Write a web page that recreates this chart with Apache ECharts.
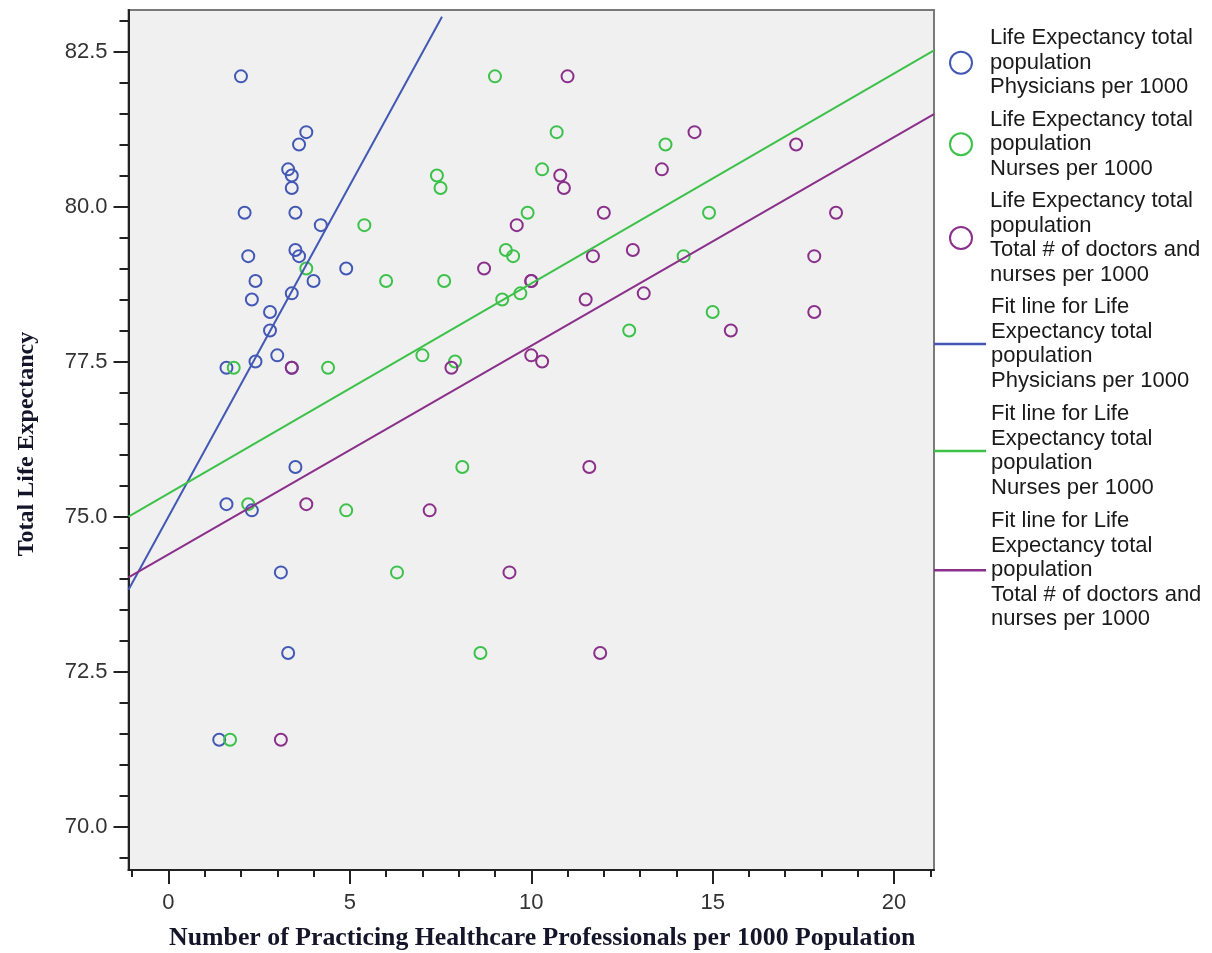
<!DOCTYPE html>
<html>
<head>
<meta charset="utf-8">
<script src="https://cdn.jsdelivr.net/npm/echarts@6/dist/echarts.min.js"></script>
<style>
html,body{margin:0;padding:0;background:#fff;}
#chart{width:1212px;height:953px;}
</style>
</head>
<body>
<div id="chart"></div>
<script>
// Life expectancy of each country (shared y value)
const lifeExp = [82.1,81.2,81.0,80.6,80.5,80.3,79.9,79.9,79.7,79.3,79.2,79.2,79.0,78.8,78.8,78.6,78.5,78.3,78.0,77.6,77.5,77.4,77.4,75.8,75.2,75.1,74.1,72.8,71.4];
// Physicians per 1000
const physicians = [2.0,3.8,3.6,3.3,3.4,3.4,2.1,3.5,4.2,3.5,2.2,3.6,4.9,2.4,4.0,3.4,2.3,2.8,2.8,3.0,2.4,1.6,3.4,3.5,1.6,2.3,3.1,3.3,1.4];
// Nurses per 1000
const nurses = [9.0,10.7,13.7,10.3,7.4,7.5,9.9,14.9,5.4,9.3,9.5,14.2,3.8,7.6,6.0,9.7,9.2,15.0,12.7,7.0,7.9,1.8,4.4,8.1,2.2,4.9,6.3,8.6,1.7];
// Total doctors and nurses per 1000
const totals = [11.0,14.5,17.3,13.6,10.8,10.9,12.0,18.4,9.6,12.8,11.7,17.8,8.7,10.0,10.0,13.1,11.5,17.8,15.5,10.0,10.3,3.4,7.8,11.6,3.8,7.2,9.4,11.9,3.1];

// Fit line end points
const fitPhysX = [-1.1, 7.54];
const fitPhysY = [73.82, 83.06];
const fitNurseX = [-1.1, 21.1];
const fitNurseY = [75.0, 82.52];
const fitTotalX = [-1.1, 21.1];
const fitTotalY = [74.02, 81.49];

// Axis ticks
const xMajorTicks = [0, 5, 10, 15, 20];
const xMinorTicks = [-1, 1, 2, 3, 4, 6, 7, 8, 9, 11, 12, 13, 14, 16, 17, 18, 19, 21];
const yMajorTicks = [70, 72.5, 75, 77.5, 80, 82.5];
const yMinorTicks = [69.5, 70.5, 71, 71.5, 72, 73, 73.5, 74, 74.5, 75.5, 76, 76.5, 77, 78, 78.5, 79, 79.5, 80.5, 81, 81.5, 82, 83];

const names = [
  'Life Expectancy total\npopulation\nPhysicians per 1000',
  'Life Expectancy total\npopulation\nNurses per 1000',
  'Life Expectancy total\npopulation\nTotal # of doctors and\nnurses per 1000',
  'Fit line for Life\nExpectancy total\npopulation\nPhysicians per 1000',
  'Fit line for Life\nExpectancy total\npopulation\nNurses per 1000',
  'Fit line for Life\nExpectancy total\npopulation\nTotal # of doctors and\nnurses per 1000'
];
const colors = ['#4258b4', '#3cc24a', '#8a2f8a'];

const X_MIN = -1.1, X_MAX = 21.1, Y_MIN = 69.3, Y_MAX = 83.17;

function pairs(xs, ys) { return xs.map((x, i) => [x, ys[i]]); }

const scatterSeries = [physicians, nurses, totals].map((xs, i) => ({
  type: 'scatter',
  name: names[i],
  data: pairs(xs, lifeExp),
  symbol: 'circle',
  symbolSize: 12,
  xAxisIndex: 0, yAxisIndex: 0,
  itemStyle: { color: 'rgba(0,0,0,0)', borderColor: colors[i], borderWidth: 2, opacity: 1 },
  emphasis: { disabled: true },
  z: 3
}));

const lineSeries = [[fitPhysX, fitPhysY], [fitNurseX, fitNurseY], [fitTotalX, fitTotalY]].map((p, i) => ({
  type: 'line',
  name: names[i + 3],
  data: pairs(p[0], p[1]),
  symbol: 'none',
  showSymbol: false,
  clip: true,
  xAxisIndex: 0, yAxisIndex: 0,
  lineStyle: { color: colors[i], width: 2 },
  itemStyle: { color: colors[i] },
  emphasis: { disabled: true },
  z: 4
}));

const chart = echarts.init(document.getElementById('chart'), null, { renderer: 'canvas' });

const legendText = { fontFamily: 'Liberation Sans, Arial, sans-serif', fontSize: 22, color: '#1a1a1a', lineHeight: 24.5 };

chart.setOption({
  animation: false,
  backgroundColor: '#ffffff',
  grid: {
    left: 128.5, right: 278, top: 10, bottom: 83,
    outerBoundsMode: 'none', containLabel: false,
    show: true, backgroundColor: '#f0f0f0', borderColor: '#7a7a7a', borderWidth: 2
  },
  legend: [
    {
      orient: 'vertical', left: 944, top: 21,
      itemWidth: 48, itemHeight: 22, itemGap: 8,
      selectedMode: false,
      textStyle: legendText,
      data: names.slice(0, 3).map((n, i) => ({
        name: n, icon: 'circle',
        itemStyle: { color: 'rgba(0,0,0,0)', borderColor: colors[i], borderWidth: 2 }
      }))
    },
    {
      orient: 'vertical', left: 934, top: 295, padding: 0,
      itemWidth: 52, itemHeight: 2.5, itemGap: 9,
      selectedMode: false,
      textStyle: legendText,
      data: names.slice(3).map((n, i) => ({
        name: n, icon: 'rect',
        itemStyle: { color: colors[i], borderWidth: 0 }
      }))
    }
  ],
  xAxis: [
    {
      type: 'value', min: X_MIN, max: X_MAX, position: 'bottom',
      name: 'Number of Practicing Healthcare Professionals per 1000 Population',
      nameLocation: 'middle', nameGap: 55,
      nameTextStyle: { fontFamily: 'Liberation Serif, Times New Roman, serif', fontWeight: 'bold', fontSize: 25.8, color: '#15152a', padding: [0, 0, 0, 22] },
      splitLine: { show: false },
      axisLine: { show: true, onZero: false, lineStyle: { color: '#222', width: 2 } },
      axisTick: { show: true, customValues: xMajorTicks, length: 14, lineStyle: { color: '#222', width: 2 } },
      axisLabel: { show: true, customValues: xMajorTicks, margin: 22, fontFamily: 'Liberation Sans, Arial, sans-serif', fontSize: 22, color: '#333' }
    },
    {
      type: 'value', min: X_MIN, max: X_MAX, position: 'bottom',
      splitLine: { show: false },
      axisLine: { show: false, onZero: false },
      axisTick: { show: true, customValues: xMinorTicks, length: 7, lineStyle: { color: '#222', width: 2 } },
      axisLabel: { show: false }
    }
  ],
  yAxis: [
    {
      type: 'value', min: Y_MIN, max: Y_MAX, position: 'left',
      name: 'Total Life Expectancy',
      nameLocation: 'middle', nameGap: 90, nameRotate: 90,
      nameTextStyle: { fontFamily: 'Liberation Serif, Times New Roman, serif', fontWeight: 'bold', fontSize: 24, color: '#15152a', padding: [0, 8, 0, 0] },
      splitLine: { show: false },
      axisLine: { show: true, onZero: false, lineStyle: { color: '#222', width: 2 } },
      axisTick: { show: true, customValues: yMajorTicks, length: 15, lineStyle: { color: '#222', width: 2 } },
      axisLabel: { show: true, customValues: yMajorTicks, margin: 21, fontFamily: 'Liberation Sans, Arial, sans-serif', fontSize: 22, color: '#333', formatter: v => v.toFixed(1) }
    },
    {
      type: 'value', min: Y_MIN, max: Y_MAX, position: 'left',
      splitLine: { show: false },
      axisLine: { show: false, onZero: false },
      axisTick: { show: true, customValues: yMinorTicks, length: 9, lineStyle: { color: '#222', width: 2 } },
      axisLabel: { show: false }
    }
  ],
  series: scatterSeries.concat(lineSeries)
});
</script>
</body>
</html>
